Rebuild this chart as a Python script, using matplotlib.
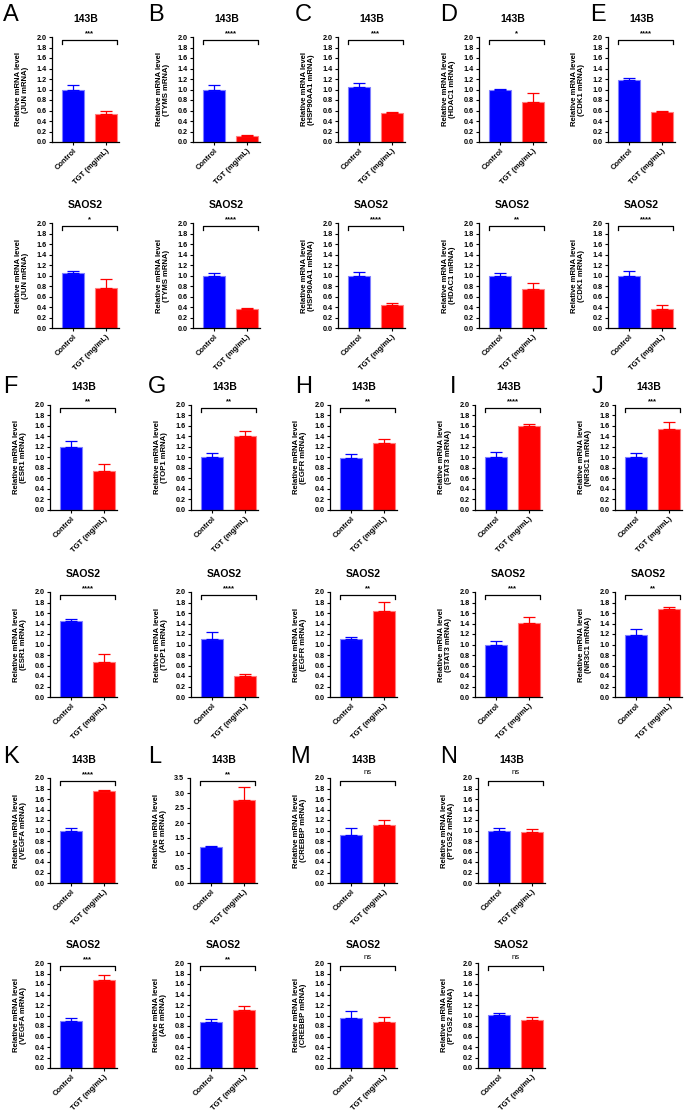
import numpy as np
import matplotlib
matplotlib.use('Agg')
import matplotlib.pyplot as plt
import matplotlib.transforms as mtransforms

plt.rcParams['font.family'] = ['Liberation Sans', 'DejaVu Sans']

# ---- data ----
letters = list('ABCDEFGHIJKLMN')
genes = ['JUN', 'TYMS', 'HSP90AA1', 'HDAC1', 'CDK1',
         'ESR1', 'TOP1', 'EGFR', 'STAT3', 'NR3C1',
         'VEGFA', 'AR', 'CREBBP', 'PTGS2']
groups = ['Control', 'TGT (mg/mL)']

ctrl_143b = [1.00, 1.00, 1.04, 1.00, 1.19, 1.20, 1.00, 0.99, 1.00, 1.00, 1.00, 1.20, 0.92, 1.00]
ctrl_143b_err = [0.09, 0.09, 0.09, 0.01, 0.03, 0.12, 0.09, 0.07, 0.11, 0.09, 0.04, 0.04, 0.12, 0.04]
tgt_143b = [0.54, 0.12, 0.56, 0.77, 0.57, 0.74, 1.40, 1.27, 1.60, 1.54, 1.75, 2.78, 1.10, 0.97]
tgt_143b_err = [0.06, 0.01, 0.02, 0.16, 0.02, 0.13, 0.10, 0.08, 0.03, 0.14, 0.03, 0.43, 0.10, 0.05]
sig_143b = ['***', '****', '***', '*', '****', '**', '**', '**', '****', '***', '****', '**', 'ns', 'ns']
ymax_143b = [2.0] * 11 + [3.5, 2.0, 2.0]

ctrl_saos2 = [1.05, 1.00, 1.00, 1.00, 1.00, 1.44, 1.10, 1.10, 1.00, 1.19, 0.90, 0.87, 0.96, 1.01]
ctrl_saos2_err = [0.03, 0.04, 0.07, 0.05, 0.09, 0.05, 0.13, 0.05, 0.06, 0.11, 0.06, 0.07, 0.12, 0.03]
tgt_saos2 = [0.77, 0.36, 0.44, 0.74, 0.36, 0.67, 0.40, 1.63, 1.41, 1.68, 1.67, 1.10, 0.87, 0.92]
tgt_saos2_err = [0.16, 0.03, 0.04, 0.11, 0.08, 0.15, 0.04, 0.18, 0.11, 0.03, 0.10, 0.08, 0.10, 0.06]
sig_saos2 = ['*', '****', '****', '**', '****', '****', '****', '**', '***', '**', '***', '**', 'ns', 'ns']
ymax_saos2 = [2.0] * 14

# ---- layout (pixels) ----
W, H = 685, 1120
AX_W, AX_H = 67, 105
col_left = [[52, 193, 338, 479, 608], [50, 191, 330, 475, 615], [50, 190, 330, 478]]
row_top = [[37, 223], [405, 592], [778, 963]]
letter_x = [[3, 148, 295, 440, 590], [3, 148, 295, 450, 592], [3, 148, 290, 440]]
letter_y = [4, 376, 746]

BLUE, BLUE_EDGE = '#0000ff', '#7f7fff'
RED, RED_EDGE = '#ff0000', '#ff7f7f'

fig = plt.figure(figsize=(W / 100, H / 100), dpi=100)
fig.patch.set_facecolor('white')


def panel(left, top, vals, errs, sig, gene, cell, ymax):
    ax = fig.add_axes([left / W, 1 - (top + AX_H) / H, AX_W / W, AX_H / H])
    x = np.arange(2)
    ax.bar(x, vals, width=0.67, color=[BLUE, RED], edgecolor=[BLUE_EDGE, RED_EDGE], lw=0.8, zorder=2)
    for xi, v, e, c in zip(x, vals, errs, [BLUE, RED]):
        ax.errorbar(xi, v, yerr=[[0], [e]], color=c, lw=0.9, capsize=4.5, capthick=0.9, zorder=3)
    ax.set_xlim(-0.65, 1.4)
    ax.set_ylim(0, ymax)
    step = 0.5 if ymax > 2 else 0.2
    ticks = np.arange(0, ymax + 1e-9, step)
    ax.set_yticks(ticks)
    ax.set_yticklabels([f'{t:.1f}' for t in ticks], fontsize=5.2, fontweight='bold')
    ax.set_xticks(x)
    ax.set_xticklabels(groups, rotation=45, ha='right', rotation_mode='anchor',
                       fontsize=5.5, fontweight='bold')
    ax.tick_params(length=2.5, width=0.8, pad=1.5)
    for s in ['top', 'right']:
        ax.spines[s].set_visible(False)
    for s in ['left', 'bottom']:
        ax.spines[s].set_linewidth(0.9)
    ax.set_ylabel(f'Relative mRNA level\n({gene} mRNA)', fontsize=5.6, fontweight='bold',
                  labelpad=5, linespacing=1.1)
    ax.set_title(cell, fontsize=7.5, fontweight='bold', pad=11)
    tr = mtransforms.blended_transform_factory(ax.transData, ax.transAxes)
    ax.plot([-0.33, -0.33, 1.33, 1.33], [0.93, 0.97, 0.97, 0.93], color='black', lw=0.9,
            transform=tr, clip_on=False)
    if sig == 'ns':
        ax.text(0.5, 1.02, sig, transform=tr, ha='center', va='bottom', fontsize=5.5)
    else:
        ax.text(0.5, 1.0, sig, transform=tr, ha='center', va='bottom', fontsize=5.5, fontweight='bold')
    return ax


for i, gene in enumerate(genes):
    g, c = divmod(i, 5)
    left = col_left[g][c]
    panel(left, row_top[g][0], [ctrl_143b[i], tgt_143b[i]], [ctrl_143b_err[i], tgt_143b_err[i]],
          sig_143b[i], gene, '143B', ymax_143b[i])
    panel(left, row_top[g][1], [ctrl_saos2[i], tgt_saos2[i]], [ctrl_saos2_err[i], tgt_saos2_err[i]],
          sig_saos2[i], gene, 'SAOS2', ymax_saos2[i])
    fig.text(letter_x[g][c] / W, 1 - letter_y[g] / H, letters[i], fontsize=17, va='top', ha='left',
             family=['Liberation Sans Narrow', 'Liberation Sans', 'DejaVu Sans'])

fig.savefig('out.png', dpi=100, facecolor='white')
